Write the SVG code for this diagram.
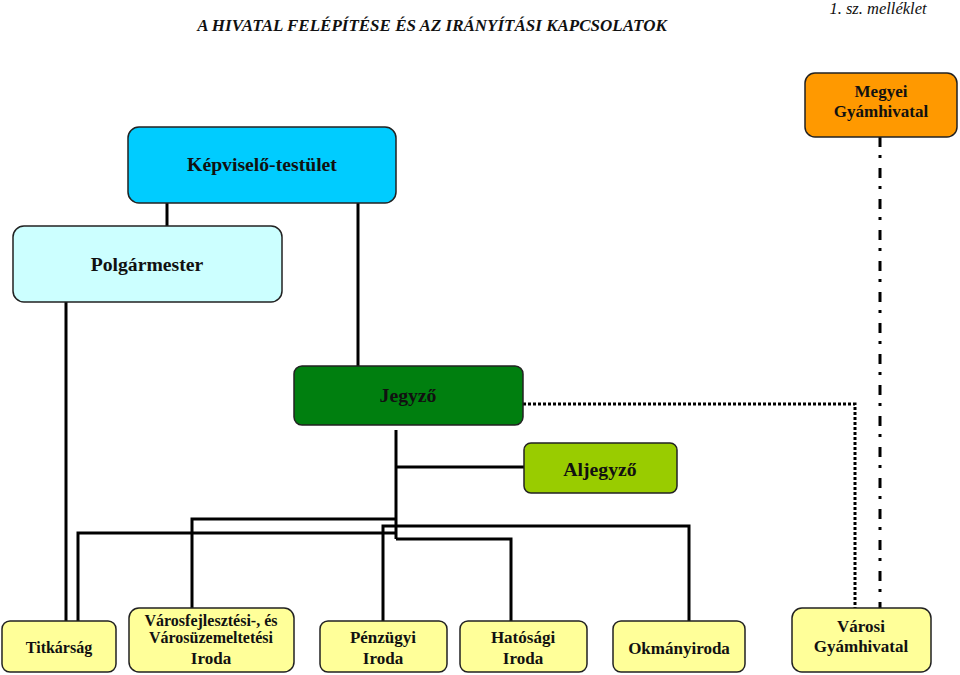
<svg xmlns="http://www.w3.org/2000/svg" width="960" height="675" viewBox="0 0 960 675">
<style>
.box{stroke:#222;stroke-width:1.5}
.t{font-family:"Liberation Serif","Times New Roman",serif;font-weight:bold;fill:#111;text-anchor:middle}
.big{font-size:19.7px}
.sm{font-size:16px}
.md{font-size:17px}
.ln{fill:none;stroke:#000;stroke-width:3}
.dot{fill:none;stroke:#000;stroke-width:3;stroke-dasharray:3 2}
.dd{fill:none;stroke:#000;stroke-width:3;stroke-dasharray:10 8 3 10}
</style>
<rect width="960" height="675" fill="#fff"/>
<text x="432" y="31" font-family="'Liberation Serif','Times New Roman',serif" font-weight="bold" font-style="italic" font-size="17" text-anchor="middle" fill="#111">A HIVATAL FELÉPÍTÉSE ÉS AZ IRÁNYÍTÁSI KAPCSOLATOK</text>
<text x="878" y="14" font-family="'Liberation Serif','Times New Roman',serif" font-style="italic" font-size="16.5" text-anchor="middle" fill="#111">1. sz. melléklet</text>
<g id="connectors">
<path class="ln" d="M167 203V226"/>
<path class="ln" d="M358 203V366"/>
<path class="ln" d="M66 302V621"/>
<path class="ln" d="M396 430V539"/>
<path class="ln" d="M396 467H524"/>
<path class="ln" d="M396 519H192V608"/>
<path class="ln" d="M396 533H78V621"/>
<path class="ln" d="M383 621V526H689V621"/>
<path class="ln" d="M396 539H511V621"/>
<path class="dot" d="M523 404H855V608"/>
<path class="dd" d="M880 137V608"/>
</g>
<g id="megyei"><rect class="box" x="805" y="73" width="152" height="64" rx="10" fill="#FF9900"/>
<text class="t md" x="881" y="97">Megyei</text><text class="t md" x="881" y="117">Gyámhivatal</text></g>
<g id="kepviselo"><rect class="box" x="128" y="127" width="268" height="76" rx="11" fill="#00CCFF"/>
<text class="t big" x="262" y="171">Képviselő-testület</text></g>
<g id="polgarmester"><rect class="box" x="13" y="226" width="269" height="76" rx="11" fill="#CCFFFF"/>
<text class="t big" x="147" y="271">Polgármester</text></g>
<g id="jegyzo"><rect class="box" x="294" y="366" width="229" height="59" rx="8" fill="#007F0F"/>
<text class="t big" x="408" y="402">Jegyző</text></g>
<g id="aljegyzo"><rect class="box" x="524" y="443" width="153" height="50" rx="7" fill="#99CC00"/>
<text class="t big" x="600" y="476">Aljegyző</text></g>
<g id="titkarsag"><rect class="box" x="2" y="621" width="114" height="51" rx="8" fill="#FFFF99"/>
<text class="t sm" x="59" y="653">Titkárság</text></g>
<g id="varosfejl"><rect class="box" x="129" y="608" width="165" height="64" rx="10" fill="#FFFF99"/>
<text class="t sm" x="211" y="626">Városfejlesztési-, és</text><text class="t sm" x="211" y="643">Városüzemeltetési</text><text class="t md" x="211" y="664">Iroda</text></g>
<g id="penzugyi"><rect class="box" x="320" y="621" width="127" height="51" rx="8" fill="#FFFF99"/>
<text class="t md" x="383" y="643">Pénzügyi</text><text class="t md" x="383" y="664">Iroda</text></g>
<g id="hatosagi"><rect class="box" x="460" y="621" width="127" height="51" rx="8" fill="#FFFF99"/>
<text class="t md" x="523" y="643">Hatósági</text><text class="t md" x="523" y="664">Iroda</text></g>
<g id="okmany"><rect class="box" x="613" y="621" width="132" height="51" rx="8" fill="#FFFF99"/>
<text class="t md" x="679" y="654">Okmányiroda</text></g>
<g id="varosi-gyam"><rect class="box" x="792" y="608" width="139" height="64" rx="10" fill="#FFFF99"/>
<text class="t md" x="861" y="632">Városi</text><text class="t md" x="861" y="652">Gyámhivatal</text></g>
</svg>
